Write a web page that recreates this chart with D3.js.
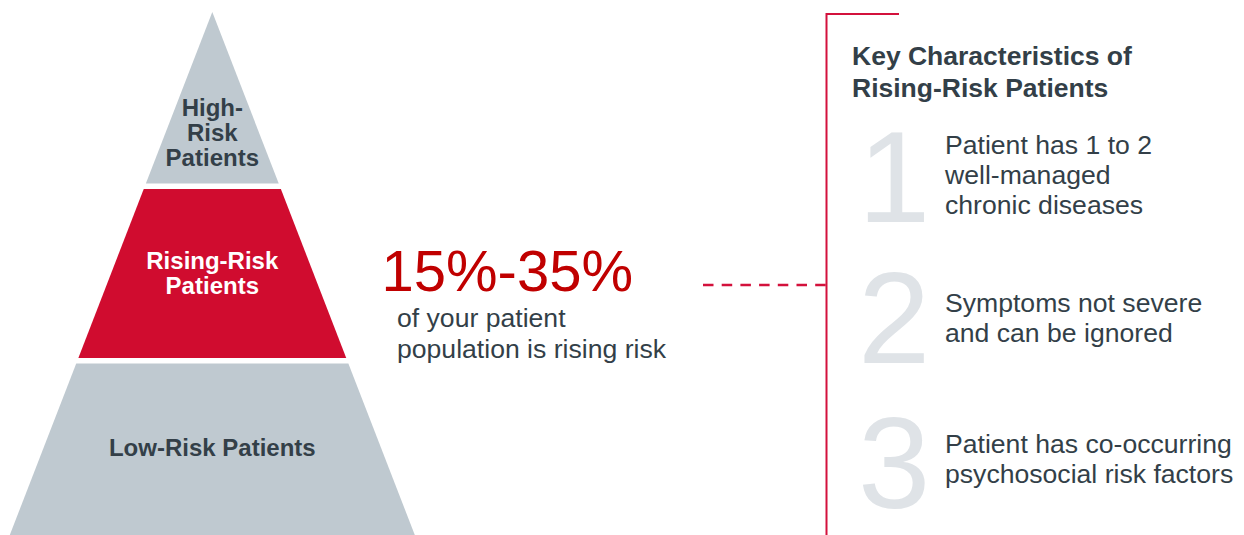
<!DOCTYPE html>
<html>
<head>
<meta charset="utf-8">
<script src="https://cdn.jsdelivr.net/npm/d3@7"></script>
<style>
  html, body { margin: 0; padding: 0; background: #ffffff; }
  svg { display: block; }
  text { font-family: "Liberation Sans", Arial, Helvetica, sans-serif; }
</style>
</head>
<body>
<svg id="chart" width="1244" height="535"></svg>
<script>
// ---- data ----
const tierNames = ["High-Risk Patients", "Rising-Risk Patients", "Low-Risk Patients"];
const tierLabelLines = [["High-", "Risk", "Patients"], ["Rising-Risk", "Patients"], ["Low-Risk Patients"]];
const tierBreaks = [0, 1 / 3, 2 / 3, 1];
const tierHighlight = [false, true, false];
const statValue = "15%-35%";
const statCaption = ["of your patient", "population is rising risk"];
const panelTitle = ["Key Characteristics of", "Rising-Risk Patients"];
const charNumbers = ["1", "2", "3"];
const charLines = [
  ["Patient has 1 to 2", "well-managed", "chronic diseases"],
  ["Symptoms not severe", "and can be ignored"],
  ["Patient has co-occurring", "psychosocial risk factors"]
];

// ---- layout ----
const svg = d3.select("#chart");
const grey = "#bfc9d0", red = "#d00c2f", dark = "#333f48", bigRed = "#c00000", numGrey = "#dfe3e7", lineRed = "#d3113c";
const apexX = 212.3;
const yScale = d3.scaleLinear().domain([0, 1]).range([12, 535]);
const halfW = d3.scaleLinear().domain([0, 1]).range([0, 202.5]);
const gap = 5.5;

const tiers = tierNames.map((name, i) => ({
  name, lines: tierLabelLines[i], hi: tierHighlight[i],
  t0: tierBreaks[i], t1: tierBreaks[i + 1]
}));

const g = svg.append("g");
tiers.forEach((d, i) => {
  const yTop = i === 0 ? yScale(d.t0) : yScale(d.t0) + gap / 2;
  const yBot = i === tiers.length - 1 ? yScale(d.t1) : yScale(d.t1) - gap / 2;
  const tTop = yScale.invert(yTop), tBot = yScale.invert(yBot);
  const pts = [
    [apexX - halfW(tTop), yTop], [apexX + halfW(tTop), yTop],
    [apexX + halfW(tBot), yBot], [apexX - halfW(tBot), yBot]
  ];
  g.append("path").attr("d", d3.line()(pts) + "Z").attr("fill", d.hi ? red : grey);
});

// tier labels (first baseline per tier)
const labelFirstBase = [116, 269, 456];
const labelLH = 25;
tiers.forEach((d, i) => {
  const t = g.append("text")
    .attr("x", apexX).attr("y", labelFirstBase[i])
    .attr("text-anchor", "middle")
    .attr("font-size", 24).attr("font-weight", "bold")
    .attr("fill", d.hi ? "#ffffff" : dark);
  d.lines.forEach((ln, j) => {
    t.append("tspan").attr("x", apexX).attr("y", labelFirstBase[i] + j * labelLH).text(ln);
  });
});

// stat
svg.append("text").attr("x", 381.5).attr("y", 291)
  .attr("font-size", 58).attr("fill", bigRed).text(statValue);
statCaption.forEach((ln, j) => {
  svg.append("text").attr("x", 397).attr("y", 327 + j * 31)
    .attr("font-size", 26.6).attr("fill", dark).text(ln);
});

// connector
const panelX = 826.5;
svg.append("line").attr("x1", 703).attr("x2", panelX).attr("y1", 285).attr("y2", 285)
  .attr("stroke", lineRed).attr("stroke-width", 2.6).attr("stroke-dasharray", "10.5 8.2");
svg.append("path")
  .attr("d", `M899,14H${panelX}V535`)
  .attr("fill", "none").attr("stroke", lineRed).attr("stroke-width", 2);

// panel title
panelTitle.forEach((ln, j) => {
  svg.append("text").attr("x", 852).attr("y", 65 + j * 31.5)
    .attr("font-size", 26.5).attr("font-weight", "bold").attr("fill", dark).text(ln);
});

// characteristics
const numBase = [221.5, 363, 507.5];
const textFirstBase = [154, 311.7, 452.7];
charNumbers.forEach((n, i) => {
  svg.append("text").attr("x", 858).attr("y", numBase[i])
    .attr("font-size", 130).attr("fill", numGrey).text(n);
  charLines[i].forEach((ln, j) => {
    svg.append("text").attr("x", 945).attr("y", textFirstBase[i] + j * 30)
      .attr("font-size", 26.6).attr("fill", dark).text(ln);
  });
});
</script>
</body>
</html>
